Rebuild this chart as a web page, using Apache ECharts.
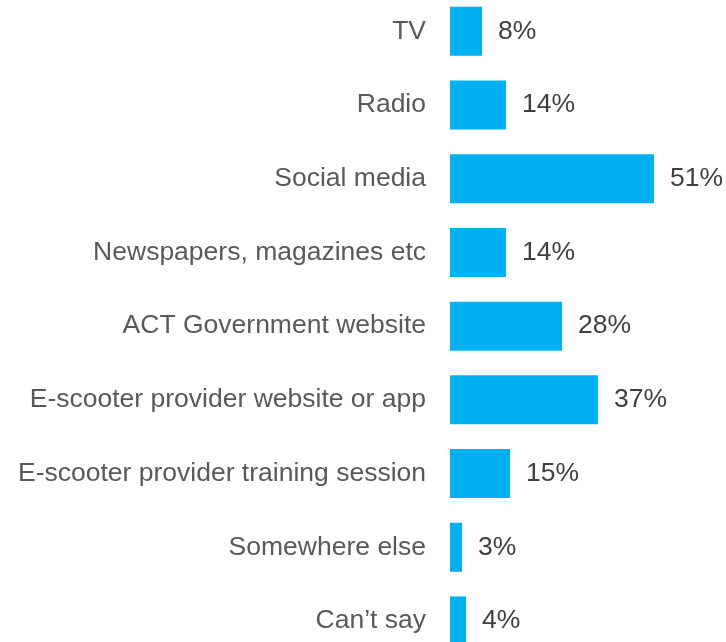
<!DOCTYPE html>
<html>
<head>
<meta charset="utf-8">
<script src="https://cdn.jsdelivr.net/npm/echarts@6/dist/echarts.min.js"></script>
<style>
  html, body { margin: 0; padding: 0; background: #fff; overflow: hidden; }
  body { width: 726px; height: 642px; position: relative; }
  /* the chart is taller than the window: the last bar is cut off at the bottom edge */
  #chart { position: absolute; left: 0; top: -6px; width: 726px; height: 670px; }
</style>
</head>
<body>
<div id="chart"></div>
<script>
var categories = ['TV', 'Radio', 'Social media', 'Newspapers, magazines etc', 'ACT Government website',
  'E-scooter provider website or app', 'E-scooter provider training session', 'Somewhere else', 'Can\u2019t say']
var values = [8, 14, 51, 14, 28, 37, 15, 3, 4]

var chart = echarts.init(document.getElementById('chart'))
chart.setOption({
  animation: false,
  grid: {
    left: 450,
    top: 0.5,
    width: 276,
    height: 663.3
  },
  xAxis: {
    type: 'value',
    min: 0,
    max: 69,
    show: false
  },
  yAxis: {
    type: 'category',
    inverse: true,
    data: categories,
    axisLine: { show: false },
    axisTick: { show: false },
    axisLabel: {
      margin: 24,
      fontFamily: 'Liberation Sans, Arial, sans-serif',
      fontSize: 26.5,
      color: '#595959'
    }
  },
  series: [{
    type: 'bar',
    data: values,
    barCategoryGap: '33.5%',
    itemStyle: { color: '#00B0F0' },
    label: {
      show: true,
      position: 'right',
      distance: 16,
      formatter: '{c}%',
      fontFamily: 'Liberation Sans, Arial, sans-serif',
      fontSize: 26.5,
      color: '#404040'
    }
  }]
})
</script>
</body>
</html>
